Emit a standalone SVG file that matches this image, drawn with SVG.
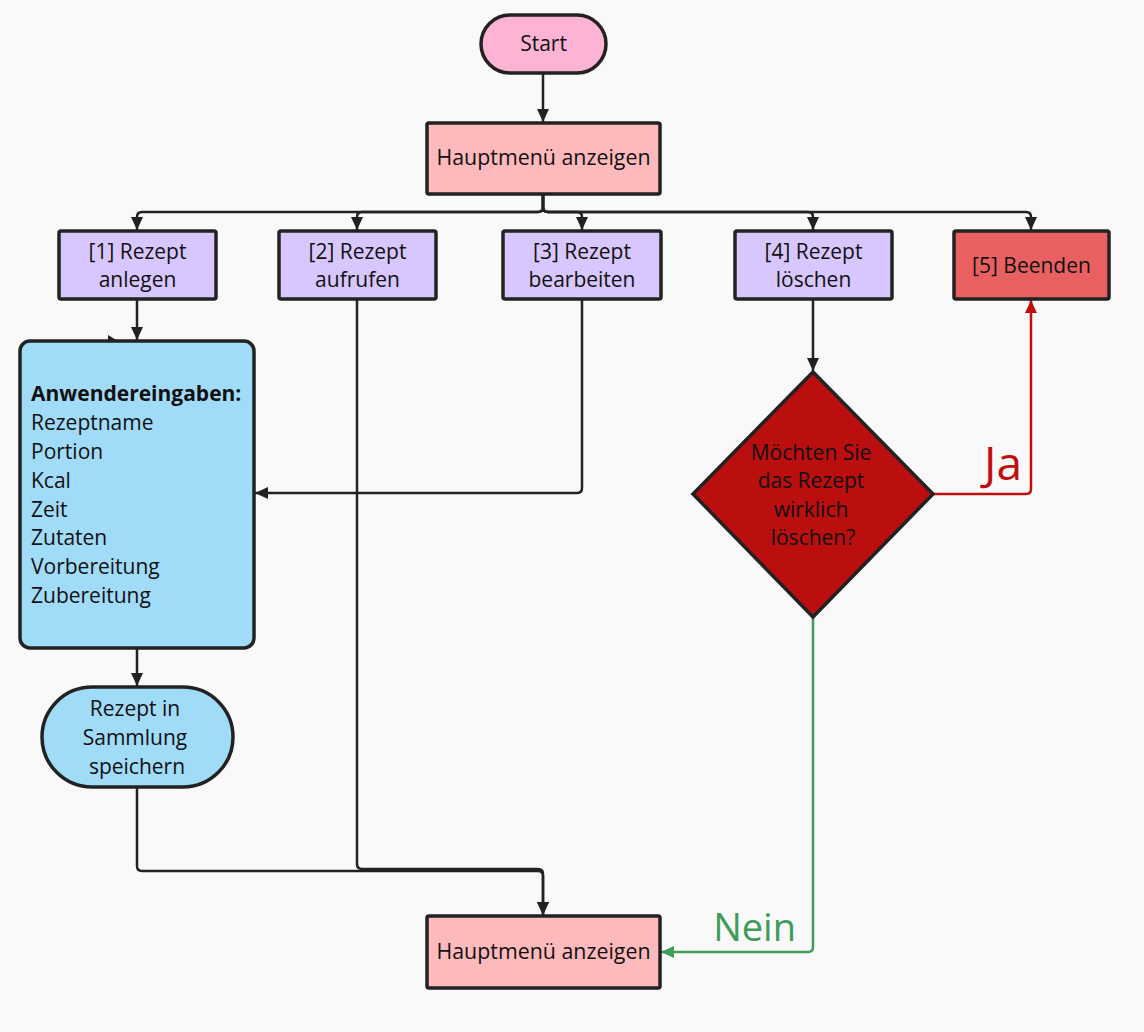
<svg xmlns="http://www.w3.org/2000/svg" width="1144" height="1032" viewBox="0 0 1144 1032">
<defs>
<style>
.n{stroke:#222;stroke-width:3.5}
.t{font-family:"Open Sans","Noto Sans",sans-serif;font-size:21px;fill:#111;text-anchor:middle}
.l{font-family:"Open Sans","Noto Sans",sans-serif;font-size:21px;fill:#111}
.c{fill:none;stroke:#222;stroke-width:2.5}
</style>
<marker id="ab" markerUnits="userSpaceOnUse" markerWidth="14" markerHeight="14" refX="13" refY="7" orient="auto"><path d="M0,1 L13,7 L0,13 z" fill="#222"/></marker>
<marker id="ar" markerUnits="userSpaceOnUse" markerWidth="14" markerHeight="14" refX="13" refY="7" orient="auto"><path d="M0,1 L13,7 L0,13 z" fill="#c00d0d"/></marker>
<marker id="ag" markerUnits="userSpaceOnUse" markerWidth="14" markerHeight="14" refX="13" refY="7" orient="auto"><path d="M0,1 L13,7 L0,13 z" fill="#3f9c5a"/></marker>
</defs>
<rect width="1144" height="1032" fill="#f9f9f9"/>
<g id="connectors">
<path class="c" d="M543,73 V122" marker-end="url(#ab)"/>
<path class="c" d="M543,194 V207 Q543,212 538,212 H142 Q137,212 137,217 V230" marker-end="url(#ab)"/>
<path class="c" d="M543,194 V207 Q543,212 538,212 H362 Q357,212 357,217 V230" marker-end="url(#ab)"/>
<path class="c" d="M543,194 V207 Q543,212 548,212 H577 Q582,212 582,217 V230" marker-end="url(#ab)"/>
<path class="c" d="M543,194 V207 Q543,212 548,212 H808 Q813,212 813,217 V230" marker-end="url(#ab)"/>
<path class="c" d="M543,194 V207 Q543,212 548,212 H1026 Q1031,212 1031,217 V230" marker-end="url(#ab)"/>
<path class="c" d="M137,299 V340" marker-end="url(#ab)"/>
<path d="M108,335 L118,341 L108,341 z" fill="#222"/>
<path class="c" d="M582,299 V488 Q582,493 577,493 H255" marker-end="url(#ab)"/>
<path class="c" d="M137,648 V686" marker-end="url(#ab)"/>
<path class="c" d="M137,787 V866 Q137,871 142,871 H538 Q543,871 543,876 V915" marker-end="url(#ab)"/>
<path class="c" d="M357,299 V864 Q357,869 362,869 H538 Q543,869 543,874 V915" marker-end="url(#ab)"/>
<path class="c" d="M813,299 V371" marker-end="url(#ab)"/>
<path d="M933,494 H1026 Q1031,494 1031,489 V300" fill="none" stroke="#c00d0d" stroke-width="2.5" marker-end="url(#ar)"/>
<path d="M813,617 V947 Q813,952 808,952 H661" fill="none" stroke="#3f9c5a" stroke-width="2.5" marker-end="url(#ag)"/>
<text x="1022" y="480" font-family="Open Sans, sans-serif" font-size="46" fill="#c00d0d" text-anchor="end">Ja</text>
<text x="796" y="941" font-family="Open Sans, sans-serif" font-size="38" fill="#3f9c5a" text-anchor="end">Nein</text>
</g>
<g id="start"><rect class="n" x="481" y="15" width="125" height="58" rx="29" fill="#fdb3d3"/><text class="t" x="543.5" y="51" font-size="20">Start</text></g>
<g id="menu1"><rect class="n" x="427" y="123" width="233" height="71" rx="2" fill="#fdb9bb"/><text class="t" x="543.5" y="165" textLength="214" lengthAdjust="spacingAndGlyphs">Hauptmenü anzeigen</text></g>
<g id="b1"><rect class="n" x="59" y="231" width="157" height="68" rx="2" fill="#d7c7fe"/><text class="t" x="137.5" y="259">[1] Rezept</text><text class="t" x="137.5" y="287">anlegen</text></g>
<g id="b2"><rect class="n" x="279" y="231" width="157" height="68" rx="2" fill="#d7c7fe"/><text class="t" x="357.5" y="259">[2] Rezept</text><text class="t" x="357.5" y="287">aufrufen</text></g>
<g id="b3"><rect class="n" x="503" y="231" width="158" height="68" rx="2" fill="#d7c7fe"/><text class="t" x="582" y="259">[3] Rezept</text><text class="t" x="582" y="287">bearbeiten</text></g>
<g id="b4"><rect class="n" x="735" y="231" width="157" height="68" rx="2" fill="#d7c7fe"/><text class="t" x="813.5" y="259">[4] Rezept</text><text class="t" x="813.5" y="287">löschen</text></g>
<g id="b5"><rect class="n" x="954" y="231" width="155" height="68" rx="2" fill="#e96060"/><text class="t" x="1031.5" y="273">[5] Beenden</text></g>
<g id="input"><rect class="n" x="20" y="341" width="234" height="307" rx="10" fill="#a0dbf8"/>
<text class="l" x="31" y="401" font-weight="bold">Anwendereingaben:</text>
<text class="l" x="31" y="430">Rezeptname</text>
<text class="l" x="31" y="459">Portion</text>
<text class="l" x="31" y="488">Kcal</text>
<text class="l" x="31" y="517">Zeit</text>
<text class="l" x="31" y="545">Zutaten</text>
<text class="l" x="31" y="574">Vorbereitung</text>
<text class="l" x="31" y="603">Zubereitung</text>
</g>
<g id="save"><rect class="n" x="42" y="687" width="191" height="100" rx="50" fill="#a0dbf8"/><text class="t" x="135" y="716">Rezept in</text><text class="t" x="135" y="745">Sammlung</text><text class="t" x="137" y="774">speichern</text></g>
<g id="decision"><path class="n" d="M813,372 L933,494 L813,617 L693,494 Z" fill="#bb0e0e"/><text class="t" x="811" y="460" font-size="19">Möchten Sie</text><text class="t" x="811" y="488" font-size="19">das Rezept</text><text class="t" x="811" y="517" font-size="19">wirklich</text><text class="t" x="813" y="545" font-size="19">löschen?</text></g>
<g id="menu2"><rect class="n" x="427" y="916" width="233" height="72" rx="2" fill="#fdb9bb"/><text class="t" x="543.5" y="959" textLength="214" lengthAdjust="spacingAndGlyphs">Hauptmenü anzeigen</text></g>
</svg>
